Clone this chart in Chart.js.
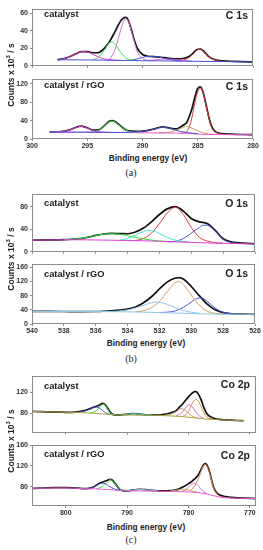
<!DOCTYPE html>
<html>
<head>
<meta charset="utf-8">
<script src="https://cdn.jsdelivr.net/npm/chart.js@4.4.0/dist/chart.umd.min.js"></script>
<style>
  body { margin: 0; background: #fff; }
  #wrap { position: relative; width: 263px; height: 550px; overflow: hidden; font-family: "Liberation Sans", Arial, sans-serif; color: #222; }
  #wrap canvas { position: absolute; left: 0; }
  .lbl { position: absolute; font-weight: bold; white-space: nowrap; line-height: 1; }
  .name { font-size: 9.3px; left: 44px; transform: translateY(-50%); }
  .core { font-size: 10.5px; transform: translate(-100%, -50%); }
  .xt { font-size: 8.3px; transform: translate(-50%, -50%); }
  .yt { font-size: 8.5px; transform: translate(-50%, -50%) rotate(-90deg); }
  .cap { position: absolute; font-family: "Liberation Serif", serif; font-size: 10px; transform: translate(-50%, -50%); }
</style>
</head>
<body>
<div id="wrap"></div>
<script>
// ---- (a) C 1s ----
var aTicksX = [300, 295, 290, 285, 280];
var aTopTicksY = [0, 20, 40, 60];
var aBotTicksY = [0, 40, 80, 120];

var aTopEnv = [[297.7,7],[297.5,7.3],[297,8.6],[296.5,11],[296,14],[295.5,16.3],[295,16.2],[294.5,15],[294,15.2],[293.5,19.5],[293,27.5],[292.5,39],[292,51],[291.75,54.5],[291.5,55.5],[291.25,51],[291,41],[290.75,30],[290.5,21],[290,13],[289.5,11],[289,10.6],[288.5,10],[288,9.4],[287.5,8.6],[287,7.9],[286.5,8.1],[286,9.5],[285.5,13.5],[285.25,16.8],[285,19],[284.75,19.2],[284.5,17.3],[284.25,13.8],[284,10.5],[283.5,7.3],[283,6],[282.5,5.5],[282,5.2],[281,4.8],[280,4.5]];
var aTopBg = [[297.7,7],[295,6.7],[292.5,6.3],[290,5.9],[287.5,5.5],[285,5.1],[282.5,4.8],[280,4.4]];
var aTopMag = [[297.7,7.1],[297.5,7.4],[297,8.6],[296.5,11],[296,14],[295.5,16.2],[295,15.8],[294.5,13.2],[294,10.2],[293.5,8],[293,7],[292.5,6.5],[292,6.2]];
var aTopGreen = [[294.5,7.2],[294,9.5],[293.5,17],[293,26.5],[292.75,27.3],[292.5,25],[292,16],[291.5,9],[291,6.6],[290.5,6]];
var aTopViolet = [[293,6.8],[292.5,18],[292,40],[291.75,50],[291.5,54],[291.25,50],[291,39],[290.75,28],[290.5,17],[290,8.5],[289.5,6.3],[289,5.9]];
var aTopBlue = [[291,6.3],[290.5,7.8],[290,9.6],[289.5,10.8],[289,11],[288.5,10],[288,8.5],[287.5,7],[287,6.1],[286.5,5.7]];
var aTopPink = [[289.5,5.9],[289,6.5],[288.5,7.3],[288,7.8],[287.5,7.8],[287,7.3],[286.5,6.5],[286,5.8],[285.5,5.3]];
var aTopRed = [[286.5,5.6],[286,7.8],[285.5,12.5],[285.25,16],[285,18.5],[284.75,18.9],[284.5,17],[284.25,13.5],[284,10.2],[283.5,6.8],[283,5.4],[282.5,5]];

var aBotEnv = [[298.4,15],[298,15.2],[297.5,15.8],[297,17.2],[296.5,20.5],[296,25.5],[295.75,27.5],[295.5,28],[295.25,26.5],[295,24.5],[294.5,19.5],[294,20],[293.5,28],[293,38.5],[292.75,40],[292.5,38],[292,28.5],[291.5,19.5],[291,17],[290.5,16.8],[290,17.3],[289.5,18.8],[289,21.5],[288.5,25],[288.25,26.2],[288,26],[287.5,23.5],[287,22],[286.75,23.5],[286.5,27],[286.25,31],[286,36],[285.75,50],[285.5,68],[285.25,92],[285,110],[284.75,113.5],[284.5,100],[284.25,75],[284,48],[283.75,28],[283.5,18],[283,12.5],[282.5,11],[282,10.4],[281,9.8],[280,9.5]];
var aBotBg = [[298.4,15],[296,14.8],[294,14.5],[292,14],[290,13.6],[288,13.2],[287,12.8],[286,12.2],[285.5,11.5],[285,10.7],[284.5,10.1],[284,9.8],[282,9.5],[280,9.4]];
var aBotMag = [[298,15.2],[297.5,15.8],[297,17.2],[296.5,20.3],[296,25],[295.75,27],[295.5,27.5],[295.25,26],[295,23.8],[294.5,19],[294,16],[293.5,14.8],[293,14.5]];
var aBotGreen = [[295,14.5],[294.5,15.2],[294,19],[293.5,27.5],[293,37.5],[292.75,39],[292.5,37.3],[292,27.5],[291.5,19],[291,15.3],[290.5,14],[290,13.6]];
var aBotBlue = [[298.4,15],[295,14.8],[292,14.2],[291.5,14.5],[291,15],[290.5,15.8],[290,16.8],[289.5,18.5],[289,21.2],[288.5,24.5],[288.25,25.5],[288,25.3],[287.5,23],[287,19.5],[286.5,16.2],[286,14],[285.5,12.6],[285,11.5]];
var aBotTan = [[288.5,13.3],[288,13.8],[287.5,15],[287,18.5],[286.5,23.5],[286.25,26],[286,27],[285.75,26],[285.5,23.5],[285,18],[284.5,13.5],[284,11],[283.5,10.2]];
var aBotRed = [[286.5,12.5],[286.25,13.2],[286,16],[285.75,27],[285.5,50],[285.25,80],[285,103],[284.75,111],[284.5,99],[284.25,73],[284,46],[283.75,26],[283.5,16.5],[283,11.5],[282.5,10]];

// ---- (b) O 1s ----
var bTicksX = [540, 538, 536, 534, 532, 530, 528, 526];
var bTopTicksY = [0, 40, 80];
var bBotTicksY = [0, 40, 80, 120, 160];

var bTopEnv = [[540,20.5],[539,21],[538,21.6],[537.5,22.2],[537,23.3],[536.5,25.8],[536,29],[535.5,31.5],[535,32.5],[534.5,32.2],[534,32],[533.5,35],[533,42],[532.5,53],[532,66],[531.5,76],[531,80],[530.5,72],[530,59],[529.5,53],[529,50],[528.5,38],[528,23],[527.5,17.5],[527,15.8],[526.5,14.8],[526,14.2]];
var bTopBg = [[540,20.5],[539,21],[538,21.3],[537,21.3],[536,21],[535,20.5],[534,20],[533,19.5],[532,18.6],[531,17.6],[530,16.6],[529,15.7],[528,15],[527,14.5],[526,14.1]];
var bTopGreen = [[538,21.5],[537.5,22.3],[537,23.4],[536.5,25.8],[536,28.8],[535.5,31.3],[535,32],[534.5,31],[534,28.5],[533.5,25.5],[533,22.8],[532.5,20.7],[532,19.2],[531.5,18.2]];
var bTopCyan = [[534.5,20.5],[534,23.5],[533.5,30],[533,36],[532.75,37.8],[532.5,37.5],[532,32.5],[531.5,25.5],[531,20.5],[530.5,18],[530,16.8]];
var bTopRed = [[533.5,20],[533,23.5],[532.5,33],[532,50],[531.5,69],[531,79],[530.5,66],[530,43],[529.5,26],[529,19],[528.5,16.2],[528,15.2]];
var bTopBlue = [[531.5,17.6],[531,18.5],[530.5,23.5],[530,33],[529.5,43],[529.25,47],[529,47],[528.5,36.5],[528,22],[527.5,16.5],[527,14.8]];

var bBotEnv = [[540,35.5],[539,35.5],[538,35.3],[537,35],[536,35.3],[535.5,36],[535,37.2],[534.5,39],[534,42],[533.5,48],[533,60],[532.5,77],[532,99],[531.5,119],[531,130],[530.75,131],[530.5,127],[530,106],[529.5,80],[529,56],[528.5,40],[528,32],[527.5,29],[527,28],[526,27.3]];
var bBotBg = [[540,35.5],[537,35],[535,34.8],[534,34.3],[533,33.5],[532,32.3],[531,31],[530,29.5],[529,28.3],[528,27.7],[527,27.4],[526,27.2]];
var bBotCyan = [[540,35.6],[537,35.3],[535,35.5],[534.5,37],[534,40],[533.5,45.5],[533,53],[532.5,60],[532.25,62],[532,61.5],[531.5,55],[531,46],[530.5,38],[530,33],[529.5,30.5]];
var bBotRed = [[533.5,34.5],[533,37.5],[532.5,46],[532,64],[531.5,92],[531,117],[530.75,120],[530.5,112],[530,82],[529.5,53],[529,36],[528.5,30],[528,28]];
var bBotBlue = [[532,32.5],[531.5,33.5],[531,37],[530.5,47],[530,62],[529.75,70],[529.5,73.5],[529.25,72],[529,64],[528.5,45],[528,33],[527.5,29],[527,27.6]];

// ---- (c) Co 2p ----
var cTicksX = [800, 790, 780, 770];
var cTopTicksY = [80, 120];
var cBotTicksY = [80, 120, 160];

var cTopEnv = [[805.5,83.5],[805,83.3],[804,83],[803,82.6],[802,82.2],[801,82],[800,81.8],[799,81.8],[798,82.5],[797,85],[796,89],[795.5,91.3],[795,93],[794.5,95.5],[794,98.5],[793.75,98],[793.5,95],[793,86],[792.5,79],[792,77],[791,77],[790,78],[789,79.5],[788,78.5],[787,77],[786,76.5],[785,76.5],[784,78],[783,80.5],[782,85],[781.5,91],[781,97],[780.5,104],[780,111],[779.5,117],[779,121],[778.75,121],[778.5,118],[778,107],[777.5,91],[777,79],[776.5,74],[776,71],[775,68.5],[774,67.5],[773,67],[772,66.3],[771,65.8]];
var cTopBg = [[805.5,83.5],[802,82.3],[800,81.8],[798,81.4],[796,80.3],[794,78.7],[793,77.8],[792,77],[790,76.6],[787,76.2],[785,75.8],[783,75],[781,73.5],[779,71.2],[777,68.8],[775,67.6],[773,66.7],[771,65.8]];
var cTopBlue = [[798,81.6],[797,83.8],[796,87.5],[795.5,90.5],[795,92],[794.5,90],[794,85],[793.5,81],[793,78.5],[792.5,77.5]];
var cTopGreen = [[796,80.5],[795.5,82],[795,85],[794.5,91],[794,96.5],[793.75,97.5],[793.5,94],[793,84],[792.5,78.5],[792,77]];
var cTopCyan = [[791,76.6],[790,77.6],[789,79.3],[788,78.5],[787,77],[786,76.2]];
var cTopTan = [[784,76],[783,77.8],[782,83],[781.5,87],[781,88.5],[780.5,85],[780,80],[779.5,75.5],[779,72.5],[778.5,71]];
var cTopViolet = [[782,75.5],[781.5,77.5],[781,82],[780.5,90],[780,95.5],[779.5,94],[779,86],[778.5,78],[778,73],[777.5,70.5]];
var cTopOrange = [[781,74],[780.5,76.5],[780,83],[779.5,96],[779,105],[778.75,106.5],[778.5,104],[778,94],[777.5,81],[777,73],[776.5,70],[776,69]];

var cBotEnv = [[805.5,77],[805,77],[804,77.5],[803,78],[802,78.2],[801,78.3],[800,78.2],[799,78],[798,77.3],[797,76.5],[796,77.5],[795.5,79.5],[795,83],[794.5,87],[794,89],[793.5,91],[793,93.5],[792.75,94.3],[792.5,93.5],[792,87],[791.5,79],[791,73.5],[790,72],[789,74],[788,75.2],[787,74.5],[786,73],[785,72.2],[784,72],[783,72.5],[782,74],[781.5,76],[781,79],[780.5,82],[780,86],[779.5,90],[779,95],[778.5,101],[778,112],[777.75,118],[777.5,122.5],[777.25,124.5],[777,122],[776.5,106],[776,82],[775.5,70],[775,64.5],[774,61],[773,59.5],[772,58.5],[771,58],[769,57.3]];
var cBotBg = [[805.5,77],[800,77.8],[797,76.3],[795,75.8],[793,74.6],[791,72.6],[788,72],[785,71.6],[782,71],[780,70],[778,68.2],[777,66.2],[776,63],[775,60.3],[774,59],[772,58],[769,57.2]];
var cBotBlue = [[797,76.4],[796,77.5],[795.5,79.3],[795,82.5],[794.5,85.5],[794,87],[793.5,85.5],[793,81.5],[792.5,78],[792,75.5],[791,73]];
var cBotGreen = [[795,76],[794.5,77.8],[794,80.5],[793.5,85.5],[793,91.5],[792.75,93.5],[792.5,92.5],[792,86],[791.5,79],[791,74],[790,72.5]];
var cBotCyan = [[790,72.3],[789,73.8],[788,75],[787,74.3],[786,73],[785,72]];
var cBotTan = [[783,71.8],[782,73.3],[781.5,74.8],[781,75.5],[780.5,75],[780,73.5],[779.5,72],[779,70.5],[778.5,69.5]];
var cBotViolet = [[781,71.5],[780.5,74],[780,79],[779.5,85],[779,87],[778.5,83],[778,76],[777.5,70],[777,67]];
var cBotOrange = [[780,72],[779.5,75],[779,81],[778.5,92],[778,108],[777.75,116],[777.5,121.5],[777.25,123.5],[777,120],[776.5,103],[776,80],[775.5,68],[775,62],[774,59.3]];

var wrap = document.getElementById('wrap');
var tickFont = { family: 'Liberation Sans', size: 7, weight: 'bold' };

var boxPlugin = {
  id: 'box',
  afterDraw: function(chart) {
    var a = chart.chartArea, ctx = chart.ctx;
    ctx.save();
    ctx.strokeStyle = '#8c8c8c';
    ctx.lineWidth = 1;
    ctx.strokeRect(Math.round(a.left) + 0.5, Math.round(a.top) + 0.5,
                   Math.round(a.right - a.left) - 1, Math.round(a.bottom - a.top) - 1);
    ctx.restore();
  }
};

function line(pts, color, width) {
  return { pts: pts, color: color, width: width || 1 };
}

function makePanel(o) {
  var xH = o.labels ? 12 : 3;
  var c = document.createElement('canvas');
  c.width = 263;
  c.height = 2 + (o.bottom - o.top) + xH;
  c.style.top = (o.top - 2) + 'px';
  wrap.appendChild(c);
  new Chart(c, {
    type: 'line',
    data: {
      datasets: o.series.map(function(s) {
        return {
          data: s.pts.map(function(p) { return { x: p[0], y: p[1] }; }),
          borderColor: s.color,
          borderWidth: s.width,
          pointRadius: 0,
          fill: false,
          cubicInterpolationMode: 'monotone'
        };
      })
    },
    options: {
      responsive: false,
      animation: false,
      events: [],
      layout: { padding: { top: 2, right: 263 - o.right, left: 0, bottom: 0 } },
      plugins: { legend: { display: false }, tooltip: { enabled: false } },
      scales: {
        x: {
          type: 'linear', reverse: true, min: o.xMin, max: o.xMax,
          afterBuildTicks: function(s) { s.ticks = o.xTicks.map(function(v) { return { value: v }; }); },
          afterFit: function(s) { s.height = xH; },
          border: { display: false },
          grid: { drawOnChartArea: false, tickLength: 2, color: '#8c8c8c' },
          ticks: { display: o.labels, padding: 1, maxRotation: 0, autoSkip: false, font: tickFont, color: '#333' }
        },
        y: {
          min: o.yMin, max: o.yMax,
          afterBuildTicks: function(s) { s.ticks = o.yTicks.map(function(v) { return { value: v }; }); },
          afterFit: function(s) { s.width = 32; },
          border: { display: false },
          grid: { drawOnChartArea: false, tickLength: 2, color: '#8c8c8c' },
          ticks: { padding: 2, autoSkip: false, font: tickFont, color: '#333' }
        }
      }
    },
    plugins: [boxPlugin]
  });
}

function addText(cls, html, x, y) {
  var d = document.createElement('div');
  d.className = cls;
  d.innerHTML = html;
  if (x !== null) d.style.left = x + 'px';
  d.style.top = y + 'px';
  wrap.appendChild(d);
}

var K = '#111', MAG = '#e03cdc', GRN = '#36e048', VIO = '#d173d0', BLU = '#4a55d0',
    RED = '#d83838', PNK = '#ec5ad8', CYN = '#3ce8c4', TAN = '#c9a062', ORG = '#e08a4a',
    OLV = '#a8a040', LBL = '#8ec6e6';

// (a)
makePanel({ top: 5, bottom: 69, right: 253, xMin: 280, xMax: 300, yMin: 0, yMax: 65,
  xTicks: aTicksX, yTicks: aTopTicksY, labels: false,
  series: [line(aTopBg, BLU), line(aTopMag, MAG), line(aTopGreen, GRN), line(aTopViolet, VIO),
           line(aTopBlue, BLU), line(aTopPink, PNK), line(aTopRed, RED), line(aTopEnv, K, 1.7)] });
makePanel({ top: 75, bottom: 139, right: 253, xMin: 280, xMax: 300, yMin: 0, yMax: 130,
  xTicks: aTicksX, yTicks: aBotTicksY, labels: true,
  series: [line(aBotBlue, BLU), line(aBotBg, PNK), line(aBotMag, MAG), line(aBotGreen, GRN),
           line(aBotTan, TAN), line(aBotRed, RED), line(aBotEnv, K, 1.7)] });

// (b)
makePanel({ top: 190, bottom: 255, right: 255, xMin: 526, xMax: 540, yMin: 0, yMax: 102,
  xTicks: bTicksX, yTicks: bTopTicksY, labels: false,
  series: [line(bTopBg, MAG), line(bTopGreen, GRN), line(bTopCyan, CYN), line(bTopRed, RED),
           line(bTopBlue, BLU), line(bTopEnv, K, 1.7)] });
makePanel({ top: 260, bottom: 324, right: 255, xMin: 526, xMax: 540, yMin: 0, yMax: 169,
  xTicks: bTicksX, yTicks: bBotTicksY, labels: true,
  series: [line(bBotBg, LBL), line(bBotCyan, LBL), line(bBotRed, TAN), line(bBotBlue, BLU),
           line(bBotEnv, K, 1.7)] });

// (c)
makePanel({ top: 372, bottom: 436, right: 256, xMin: 769, xMax: 805.5, yMin: 43, yMax: 150,
  xTicks: cTicksX, yTicks: cTopTicksY, labels: false,
  series: [line(cTopBg, OLV), line(cTopBlue, BLU), line(cTopGreen, GRN), line(cTopCyan, CYN),
           line(cTopTan, TAN), line(cTopViolet, VIO), line(cTopOrange, ORG), line(cTopEnv, K, 1.7)] });
makePanel({ top: 441, bottom: 506, right: 256, xMin: 769, xMax: 805.5, yMin: 43, yMax: 160,
  xTicks: cTicksX, yTicks: cBotTicksY, labels: true,
  series: [line(cBotBg, PNK), line(cBotBlue, BLU), line(cBotGreen, GRN), line(cBotCyan, LBL),
           line(cBotTan, TAN), line(cBotViolet, VIO), line(cBotOrange, ORG), line(cBotEnv, K, 1.7)] });

// texts
addText('lbl name', 'catalyst', null, 15);
addText('lbl name', 'catalyst / rGO', null, 86);
addText('lbl core', 'C 1s', 248, 15);
addText('lbl core', 'C 1s', 248, 86);
addText('lbl name', 'catalyst', null, 204);
addText('lbl name', 'catalyst / rGO', null, 275);
addText('lbl core', 'O 1s', 248, 203);
addText('lbl core', 'O 1s', 248, 273);
addText('lbl name', 'catalyst', null, 387);
addText('lbl name', 'catalyst / rGO', null, 455);
addText('lbl core', 'Co 2p', 250, 384);
addText('lbl core', 'Co 2p', 250, 455);

var yTitle = 'Counts x 10<sup style="font-size:6px">3</sup> / s';
addText('lbl yt', yTitle, 10, 75);
addText('lbl yt', yTitle, 10, 259);
addText('lbl yt', yTitle, 10, 441);

addText('lbl xt', 'Binding energy (eV)', 148, 158);
addText('lbl xt', 'Binding energy (eV)', 146, 343);
addText('lbl xt', 'Binding energy (eV)', 146, 527);

addText('cap', '(a)', 131, 172);
addText('cap', '(b)', 131, 358);
addText('cap', '(c)', 131, 539);
</script>
</body>
</html>
